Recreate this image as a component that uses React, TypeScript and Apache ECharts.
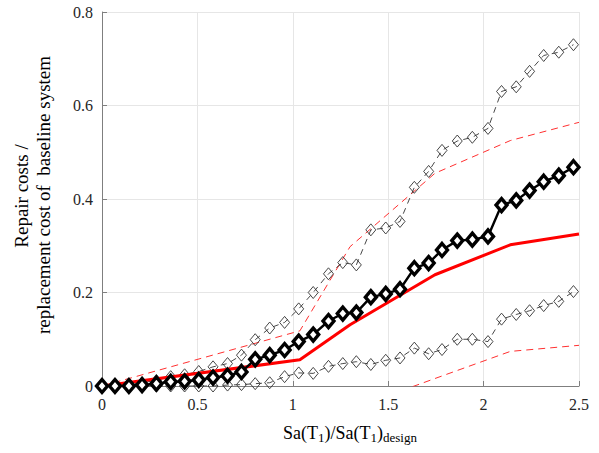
import React, { useEffect, useRef } from "react";
import * as echarts from "echarts";

// Sa(T1)/Sa(T1)design levels
const saLevels = [
  0, 0.068, 0.141, 0.21, 0.285, 0.36, 0.433, 0.507, 0.582, 0.658, 0.731, 0.803,
  0.879, 0.957, 1.031, 1.107, 1.187, 1.262, 1.333, 1.409, 1.487, 1.562, 1.637,
  1.712, 1.782, 1.862, 1.941, 2.023, 2.094, 2.171, 2.241, 2.315, 2.394, 2.471,
];

// median repair cost ratio (thick black with filled diamonds)
const medianCost = [
  0, 0, 0, 0.002, 0.005, 0.009, 0.01, 0.013, 0.018, 0.022, 0.03, 0.057, 0.066,
  0.077, 0.095, 0.11, 0.139, 0.155, 0.157, 0.19, 0.197, 0.207, 0.252, 0.263,
  0.291, 0.311, 0.313, 0.32, 0.387, 0.397, 0.418, 0.437, 0.45, 0.468,
];

// upper percentile (thin dashed, hollow diamonds)
const upperCost = [
  0, 0.002, 0.004, 0.007, 0.012, 0.02, 0.024, 0.031, 0.041, 0.048, 0.066, 0.099,
  0.124, 0.136, 0.165, 0.2, 0.24, 0.264, 0.259, 0.334, 0.338, 0.352, 0.425,
  0.459, 0.504, 0.524, 0.532, 0.551, 0.63, 0.64, 0.673, 0.707, 0.714, 0.73,
];

// lower percentile (thin dashed, hollow diamonds)
const lowerCost = [
  0, 0, 0, 0, 0, 0, 0, 0, 0, 0.002, 0.003, 0.005, 0.007, 0.02, 0.028, 0.027,
  0.042, 0.048, 0.052, 0.046, 0.055, 0.06, 0.081, 0.069, 0.078, 0.1, 0.1, 0.095,
  0.143, 0.153, 0.161, 0.172, 0.181, 0.202,
];

// red reference curves
const refSa = [0, 1.037, 1.3, 1.745, 2.14, 2.5];
const refMedian = [0, 0.056, 0.131, 0.238, 0.302, 0.325];
const refUpper = [0, 0.118, 0.298, 0.455, 0.525, 0.564];
const refLower = [null, -0.01, -0.05, 0.016, 0.074, 0.087];

const xTicks = { min: 0, max: 2.5, interval: 0.5 };
const yTicks = { min: 0, max: 0.8, interval: 0.2 };

const SERIF = "Liberation Serif";

function pairs(xs: number[], ys: (number | null)[]) {
  const out: number[][] = [];
  xs.forEach((x, i) => {
    if (ys[i] !== null && ys[i] !== undefined) out.push([x, ys[i] as number]);
  });
  return out;
}

export default function App() {
  const ref = useRef<HTMLDivElement>(null);
  useEffect(() => {
    if (!ref.current) return;
    const chart = echarts.init(ref.current, undefined, { renderer: "svg" });
    const hollow = {
      type: "line",
      symbol: "diamond",
      symbolSize: [10, 12],
      showSymbol: true,
      itemStyle: { color: "rgba(0,0,0,0)", borderColor: "#333", borderWidth: 0.9 },
      lineStyle: { color: "#333", width: 0.9, type: [6, 5] },
      z: 3,
    };
    const axisCommon = {
      axisLine: { show: true, onZero: false, lineStyle: { color: "#7f7f7f", width: 1 } },
      axisTick: { show: true, inside: true, length: 5, lineStyle: { color: "#7f7f7f" } },
      splitLine: { show: true, lineStyle: { color: "#e6e6e6", width: 1 } },
    };
    chart.setOption({
      animation: false,
      backgroundColor: "#fff",
      grid: { left: 102, right: 20, top: 12, bottom: 67, containLabel: false },
      xAxis: {
        type: "value",
        ...xTicks,
        ...axisCommon,
        axisLabel: { color: "#262626", fontFamily: SERIF, fontSize: 16, margin: 10 },
      },
      yAxis: {
        type: "value",
        ...yTicks,
        ...axisCommon,
        axisLabel: { color: "#262626", fontFamily: SERIF, fontSize: 16, margin: 9 },
      },
      series: [
        {
          type: "line",
          data: pairs(refSa, refUpper),
          symbol: "none",
          lineStyle: { color: "#ff3030", width: 1, type: [7, 5] },
          z: 2,
        },
        {
          type: "line",
          data: pairs(refSa, refLower),
          symbol: "none",
          lineStyle: { color: "#ff3030", width: 1, type: [7, 5] },
          z: 2,
        },
        { ...hollow, data: pairs(saLevels, upperCost) },
        { ...hollow, data: pairs(saLevels, lowerCost) },
        {
          type: "line",
          data: pairs(refSa, refMedian),
          symbol: "none",
          lineStyle: { color: "#ff0000", width: 3 },
          z: 4,
        },
        {
          type: "line",
          data: pairs(saLevels, medianCost),
          symbol: "diamond",
          symbolSize: [11, 13],
          showSymbol: true,
          itemStyle: { color: "#ffffff", borderColor: "#000", borderWidth: 3.4 },
          lineStyle: { color: "#000", width: 2.4 },
          z: 5,
        },
      ],
      graphic: [
        {
          type: "text",
          x: 350,
          y: 433,
          style: {
            text: "{n|Sa(T}{s|1}{n|)/Sa(T}{s|1}{n|)}{s|design}",
            align: "center",
            verticalAlign: "middle",
            rich: {
              n: { fontFamily: SERIF, fontSize: 18, fill: "#000", lineHeight: 22, verticalAlign: "middle" },
              s: { fontFamily: SERIF, fontSize: 13, fill: "#000", lineHeight: 22, verticalAlign: "bottom", padding: [11, 0, 0, 0] },
            },
          },
        },
        {
          type: "text",
          x: 21,
          y: 196,
          rotation: Math.PI / 2,
          style: {
            text: "Repair costs /",
            fontFamily: SERIF,
            fontSize: 19,
            fill: "#000",
            align: "center",
            verticalAlign: "middle",
          },
        },
        {
          type: "text",
          x: 43,
          y: 195,
          rotation: Math.PI / 2,
          style: {
            text: "replacement cost of  baseline system",
            fontFamily: SERIF,
            fontSize: 19,
            fill: "#000",
            align: "center",
            verticalAlign: "middle",
          },
        },
      ],
    });
    return () => chart.dispose();
  }, []);
  return <div ref={ref} style={{ width: 599, height: 453, position: "absolute", left: 0, top: 0 }} />;
}
